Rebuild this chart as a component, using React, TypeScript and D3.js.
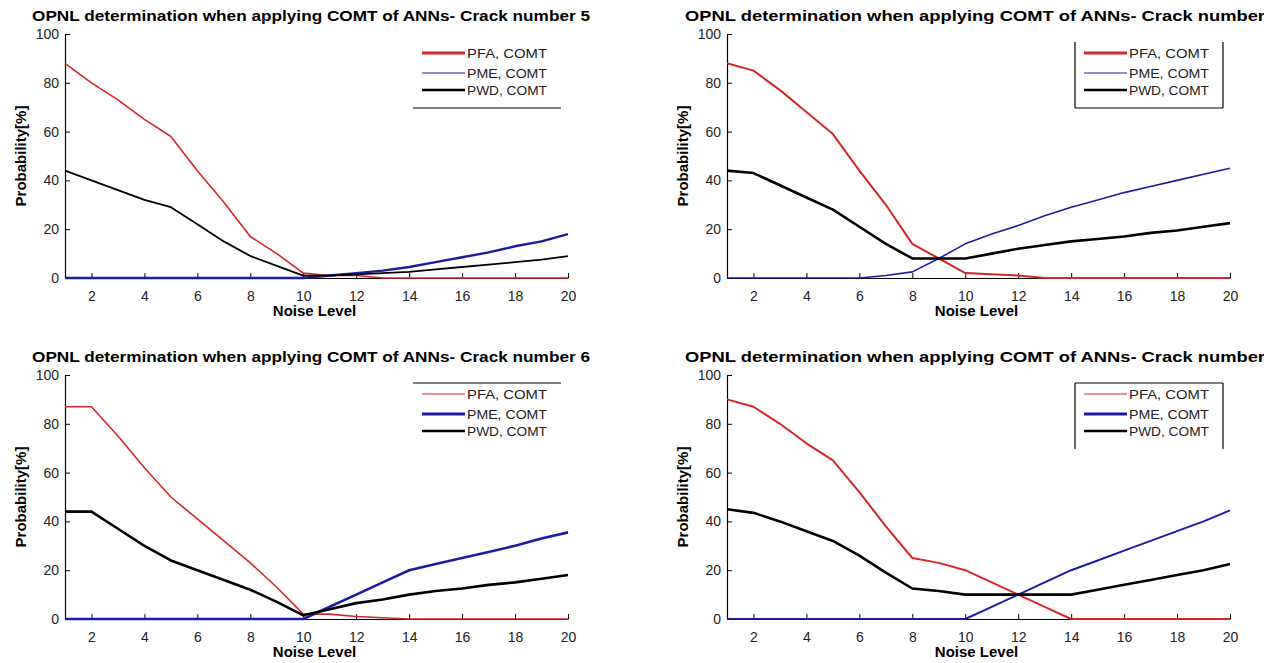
import React, {useEffect, useRef} from 'react';
import * as d3 from 'd3';

// noise levels on the x axis
const noiseLevels = d3.range(1, 21);
const yTicks = [0, 20, 40, 60, 80, 100];
const xTicks = [2, 4, 6, 8, 10, 12, 14, 16, 18, 20];
const legendLabels = ['PFA, COMT', 'PME, COMT', 'PWD, COMT'];

// crack number 5 (top left)
const pfa5 = [88, 80, 73, 65, 58, 44, 31, 17, 10, 2, 1, 1, 0, 0, 0, 0, 0, 0, 0, 0];
const pme5 = [0, 0, 0, 0, 0, 0, 0, 0, 0, 0, 1, 2, 3, 4.5, 6.5, 8.5, 10.5, 13, 15, 18];
const pwd5 = [44, 40, 36, 32, 29, 22, 15, 9, 5, 1, 1, 1.5, 2, 2.5, 3.5, 4.5, 5.5, 6.5, 7.5, 9];

// top right
const pfaB = [88, 85, 77, 68, 59, 44, 30, 14, 8, 2, 1.5, 1, 0, 0, 0, 0, 0, 0, 0, 0];
const pmeB = [0, 0, 0, 0, 0, 0, 1, 2.5, 8, 14, 18, 21.5, 25.5, 29, 32, 35, 37.5, 40, 42.5, 45];
const pwdB = [44, 43, 38, 33, 28, 21, 14, 8, 8, 8, 10, 12, 13.5, 15, 16, 17, 18.5, 19.5, 21, 22.5];

// crack number 6 (bottom left)
const pfa6 = [87, 87, 75, 62, 50, 41, 32, 23, 13, 2, 2, 1, 0.5, 0, 0, 0, 0, 0, 0, 0];
const pme6 = [0, 0, 0, 0, 0, 0, 0, 0, 0, 0, 5, 10, 15, 20, 22.5, 25, 27.5, 30, 33, 35.5];
const pwd6 = [44, 44, 37, 30, 24, 20, 16, 12, 7, 1.5, 4, 6.5, 8, 10, 11.5, 12.5, 14, 15, 16.5, 18];

// bottom right
const pfaD = [90, 87, 80, 72, 65, 52, 38, 25, 23, 20, 15, 10, 5, 0, 0, 0, 0, 0, 0, 0];
const pmeD = [0, 0, 0, 0, 0, 0, 0, 0, 0, 0, 5, 10, 15, 20, 24, 28, 32, 36, 40, 44.5];
const pwdD = [45, 43.5, 40, 36, 32, 26, 19, 12.5, 11.5, 10, 10, 10, 10, 10, 12, 14, 16, 18, 20, 22.5];

const RED = '#d2262a';
const BLUE = '#1c1ca0';
const BLACK = '#000000';
const FONT = '"Liberation Sans", Arial, sans-serif';

const panels = [
    {
        title: 'OPNL determination when applying COMT of ANNs- Crack number 5',
        titleX: 32, titleLen: 558,
        ox: 65, oy: 34,
        series: [pfa5, pme5, pwd5],
        widths: [1.6, 2.4, 1.8],
        legendWidths: [3, 1, 2.5],
        edges: ['bottom']
    },
    {
        title: 'OPNL determination when applying COMT of ANNs- Crack number',
        titleX: 685, titleLen: 580,
        ox: 727, oy: 34,
        series: [pfaB, pmeB, pwdB],
        widths: [2, 1.6, 2.6],
        legendWidths: [3, 1, 2.5],
        edges: ['left', 'right', 'bottom']
    },
    {
        title: 'OPNL determination when applying COMT of ANNs- Crack number 6',
        titleX: 32, titleLen: 558,
        ox: 65, oy: 375,
        series: [pfa6, pme6, pwd6],
        widths: [1.6, 2.6, 2.6],
        legendWidths: [1, 3, 2.5],
        edges: ['top']
    },
    {
        title: 'OPNL determination when applying COMT of ANNs- Crack number',
        titleX: 685, titleLen: 580,
        ox: 727, oy: 375,
        series: [pfaD, pmeD, pwdD],
        widths: [2, 2, 2.6],
        legendWidths: [1, 3, 2.5],
        edges: ['top', 'left', 'right']
    }
];

const W = 503;
const H = 244;

export default function App() {
    const ref = useRef(null);

    useEffect(() => {
        drawChart();
    }, []);

    function drawChart() {
        const svg = d3.select(ref.current);
        svg.selectAll('*').remove();

        const colors = [RED, BLUE, BLACK];

        panels.forEach((p) => {
            const x = d3.scaleLinear().domain([1, 20]).range([p.ox, p.ox + W]);
            const y = d3.scaleLinear().domain([0, 100]).range([p.oy + H, p.oy]);
            const g = svg.append('g');

            // title
            g.append('text')
                .attr('x', p.titleX)
                .attr('y', p.oy - 13)
                .attr('textLength', p.titleLen)
                .attr('lengthAdjust', 'spacingAndGlyphs')
                .style('font-family', FONT)
                .style('font-weight', 'bold')
                .style('font-size', '15px')
                .text(p.title);

            // axes, matlab style ticks pointing inward
            const xAxis = g.append('g')
                .attr('transform', `translate(0, ${p.oy + H})`)
                .call(d3.axisBottom(x).tickValues(xTicks).tickSizeInner(-5).tickSizeOuter(0).tickPadding(10));
            const yAxis = g.append('g')
                .attr('transform', `translate(${p.ox}, 0)`)
                .call(d3.axisLeft(y).tickValues(yTicks).tickSizeInner(-5).tickSizeOuter(0).tickPadding(6));
            [xAxis, yAxis].forEach((a) => {
                a.selectAll('text')
                    .style('font-family', FONT)
                    .style('font-size', '14px')
                    .attr('fill', '#222');
                a.select('.domain').attr('stroke', '#000').attr('stroke-width', 1.2);
                a.selectAll('.tick line').attr('stroke', '#000');
            });
            xAxis.selectAll('text').attr('dy', '0.9em');

            // axis labels
            g.append('text')
                .attr('x', (p.ox + p.ox + W) / 2 - 2)
                .attr('y', p.oy + H + 38)
                .attr('text-anchor', 'middle')
                .style('font-family', FONT)
                .style('font-weight', 'bold')
                .style('font-size', '15px')
                .text('Noise Level');
            g.append('text')
                .attr('transform', `translate(${p.ox - 39}, ${p.oy + H / 2}) rotate(-90)`)
                .attr('text-anchor', 'middle')
                .style('font-family', FONT)
                .style('font-weight', 'bold')
                .style('font-size', '15px')
                .text('Probability[%]');

            // series lines
            const line = d3.line()
                .x((_, i) => x(noiseLevels[i]))
                .y((d) => y(d));
            p.series.forEach((s, i) => {
                g.append('path')
                    .attr('d', line(s))
                    .attr('fill', 'none')
                    .attr('stroke', colors[i])
                    .attr('stroke-width', p.widths[i])
                    .attr('stroke-linejoin', 'round');
            });

            // legend (each panel shows a different part of the box)
            const lx0 = p.ox + 348;
            const lx1 = p.ox + 496;
            const ly0 = p.oy + 8;
            const ly1 = p.oy + 74;
            const edgeCoords = {
                top: [lx0, ly0, lx1, ly0],
                bottom: [lx0, ly1, lx1, ly1],
                left: [lx0, ly0, lx0, ly1],
                right: [lx1, ly0, lx1, ly1]
            };
            p.edges.forEach((e) => {
                const [a, b, c, d] = edgeCoords[e];
                g.append('line')
                    .attr('x1', a).attr('y1', b).attr('x2', c).attr('y2', d)
                    .attr('stroke', '#000').attr('stroke-width', 1.2);
            });
            const rows = [19, 39, 56];
            legendLabels.forEach((label, i) => {
                const ry = p.oy + rows[i];
                g.append('line')
                    .attr('x1', p.ox + 357).attr('x2', p.ox + 400)
                    .attr('y1', ry).attr('y2', ry)
                    .attr('stroke', colors[i])
                    .attr('stroke-width', p.legendWidths[i]);
                g.append('text')
                    .attr('x', p.ox + 402)
                    .attr('y', ry + 5)
                    .attr('textLength', 80)
                    .attr('lengthAdjust', 'spacingAndGlyphs')
                    .style('font-family', FONT)
                    .style('font-size', '13px')
                    .attr('fill', '#222')
                    .text(label);
            });
        });
    }

    return (
        <svg ref={ref} width={1264} height={663}
             style={{position: 'absolute', left: 0, top: 0, background: '#fff'}}/>
    );
}
